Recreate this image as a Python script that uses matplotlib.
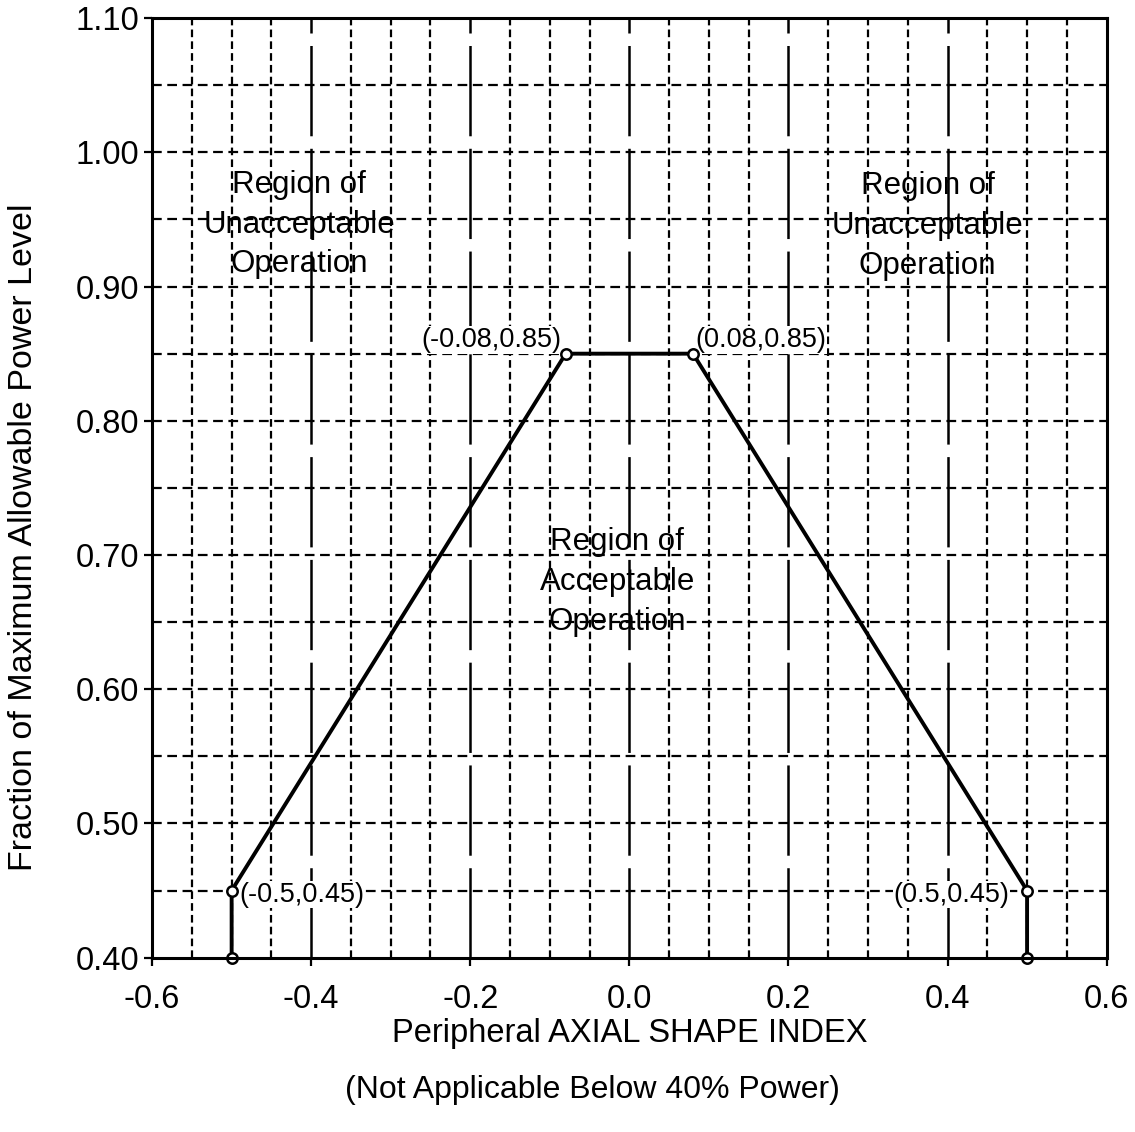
import numpy as np
import matplotlib
matplotlib.use("Agg")
from matplotlib import pyplot as plt

plt.rcParams['font.family'] = ['Liberation Sans', 'DejaVu Sans']
plt.rcParams['lines.scale_dashes'] = False

# limite de operacao
asi   = [-0.5, -0.5, -0.08, 0.08, 0.5, 0.5]
power = [0.40, 0.45, 0.85, 0.85, 0.45, 0.40]

rotulos_pontos = ["(-0.5,0.45)", "(-0.08,0.85)", "(0.08,0.85)", "(0.5,0.45)"]
xticks = [-0.6, -0.4, -0.2, 0.0, 0.2, 0.4, 0.6]
yticks = [0.40, 0.50, 0.60, 0.70, 0.80, 0.90, 1.00, 1.10]

fig = plt.figure(figsize=(11.35, 11.32), dpi=100)
ax = fig.add_axes([0.134, 0.154, 0.841, 0.830])
ax.set_xlim(-0.6, 0.6)
ax.set_ylim(0.40, 1.10)

# grade
for i in range(-11, 12):
    gx = i * 0.05
    if i % 4 == 0:
        ax.plot([gx, gx], [0.40, 1.10], color='black', lw=1.8, dashes=(65, 9), zorder=1)
    else:
        ax.plot([gx, gx], [0.40, 1.10], color='black', lw=1.6, dashes=(5.5, 3), zorder=1)
for j in range(1, 14):
    gy = 0.40 + j * 0.05
    ax.plot([-0.6, 0.6], [gy, gy], color='black', lw=1.6, dashes=(7, 4), zorder=1)

ax.plot(asi, power, color='black', lw=2.8, marker='o', markersize=7.5,
        markerfacecolor='white', markeredgewidth=1.8, zorder=3, clip_on=False)

caixa = dict(facecolor='white', edgecolor='none', pad=0.5)
fonte_pt = 19.5
ax.text(-0.49, 0.447, rotulos_pontos[0], fontsize=fonte_pt, ha='left', va='center', bbox=caixa, zorder=2)
ax.text(-0.085, 0.86, rotulos_pontos[1], fontsize=fonte_pt, ha='right', va='center', bbox=caixa, zorder=2)
ax.text(0.083, 0.86, rotulos_pontos[2], fontsize=fonte_pt, ha='left', va='center', bbox=caixa, zorder=2)
ax.text(0.478, 0.447, rotulos_pontos[3], fontsize=fonte_pt, ha='right', va='center', bbox=caixa, zorder=2)

fonte_reg = 22.5
ax.text(-0.415, 0.946, "Region of\nUnacceptable\nOperation", fontsize=fonte_reg, ha='center',
        va='center', linespacing=1.42, zorder=2)
ax.text(0.375, 0.945, "Region of\nUnacceptable\nOperation", fontsize=fonte_reg, ha='center',
        va='center', linespacing=1.42, zorder=2)
ax.text(-0.015, 0.68, "Region of\nAcceptable\nOperation", fontsize=fonte_reg, ha='center',
        va='center', linespacing=1.42, zorder=2)

ax.set_xticks(xticks)
ax.set_xticklabels(["%.1f" % v for v in xticks])
ax.set_yticks(yticks)
ax.set_yticklabels(["%.2f" % v for v in yticks])
ax.tick_params(direction='out', length=6, width=1.6, labelsize=23.5)
ax.tick_params(axis='x', pad=13)
ax.tick_params(axis='y', pad=3)
for s in ax.spines.values():
    s.set_linewidth(2.2)
    s.set_zorder(4)

ax.set_xlabel("Peripheral AXIAL SHAPE INDEX", fontsize=23.5, labelpad=2)
ax.set_ylabel("Fraction of Maximum Allowable Power Level", fontsize=24.5)
ax.yaxis.set_label_coords(-0.119, 0.447)
fig.text(0.522, 0.037, "(Not Applicable Below 40% Power)", fontsize=23, ha='center', va='center')

plt.savefig("out.png", dpi=100)
